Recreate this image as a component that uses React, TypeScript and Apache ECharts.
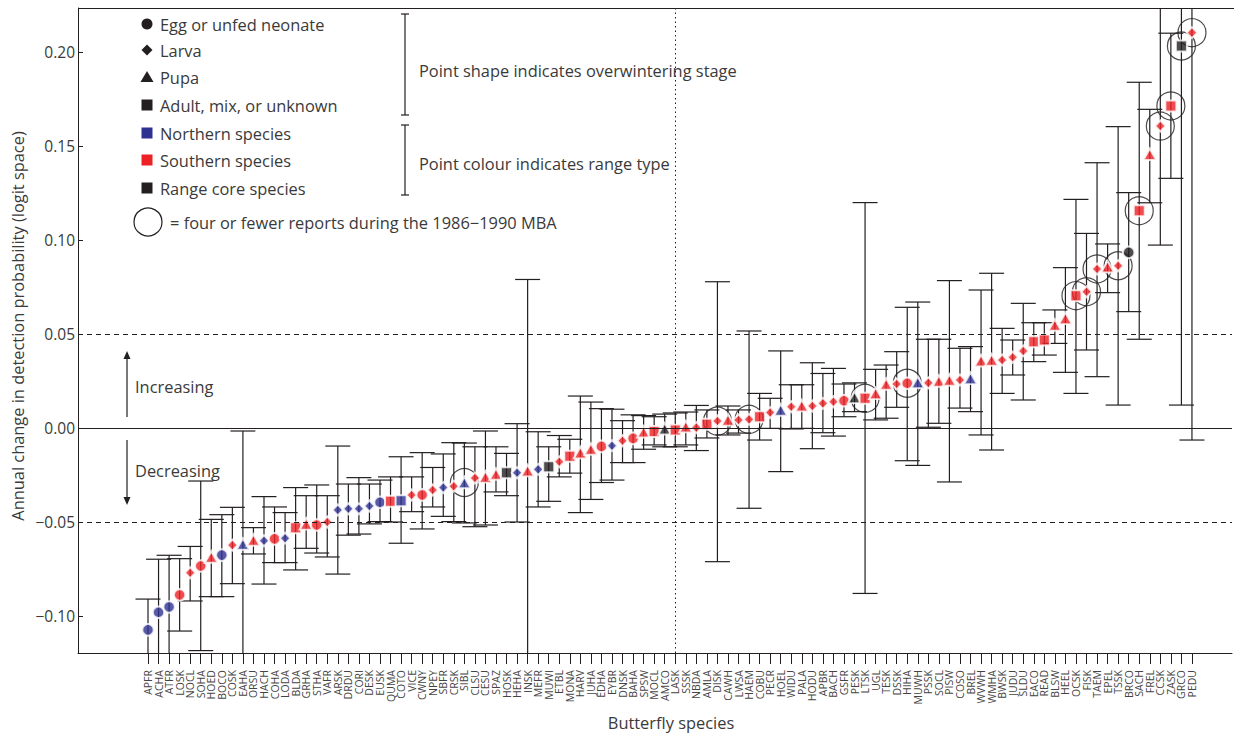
import React, { useEffect, useRef } from "react";
import * as echarts from "echarts";

const species = [
  "APFR","ACHA","ATFR","LOSK","NOCL","SOHA","HOED","BOCO","COSK","EAHA",
  "ORSU","HACH","COHA","LODA","BLDA","GRHA","STHA","VAFR","ARSK","DRDU",
  "CORI","DESK","EUSK","QUMA","COTO","VICE","CWNY","NPEY","SBFR","CRSK",
  "SIBL","CLSU","CESU","SPAZ","HOSK","HEHA","INSK","MEFR","MUWI","ETBL",
  "MONA","HARV","JUHA","EDHA","EYBR","DNSK","BAHA","SPSW","MOCL","AMCO",
  "LASK","SSSK","NBDA","AMLA","DISK","CAWH","LWSA","HAEM","COBU","PECR",
  "HOEL","WIDU","PALA","HODU","APBR","BACH","GSFR","PESK","LTSK","UGL",
  "TESK","DSSK","HIHA","MUWH","PSSK","SOCL","PISW","COSO","BREL","WVWH",
  "WMHA","BWSK","JUDU","SLDU","EACO","READ","BLSW","HEEL","OCSK","FISK",
  "TAEM","EPEL","TSSK","BRCO","SACH","FREL","CCSK","ZASK","GRCO","PEDU",
];

const change = [
  -0.1074,-0.098,-0.0952,-0.0888,-0.077,-0.0734,-0.0686,-0.0676,-0.0623,-0.0617,
  -0.0596,-0.060,-0.059,-0.0586,-0.053,-0.051,-0.0516,-0.050,-0.0436,-0.043,
  -0.043,-0.0415,-0.0395,-0.039,-0.0387,-0.0356,-0.0356,-0.033,-0.0317,-0.031,
  -0.029,-0.0266,-0.026,-0.0245,-0.0238,-0.0238,-0.0227,-0.022,-0.0206,-0.018,
  -0.015,-0.0131,-0.0112,-0.0098,-0.0094,-0.0068,-0.0055,-0.002,-0.0018,-0.0004,
  -0.001,0.0007,0.0002,0.002,0.0037,0.0043,0.0043,0.0046,0.006,0.0082,
  0.0096,0.0113,0.0119,0.0117,0.0131,0.014,0.0145,0.0163,0.0158,0.0184,
  0.0234,0.0234,0.0238,0.0243,0.024,0.025,0.0255,0.0255,0.0264,0.0358,
  0.0362,0.0362,0.0376,0.041,0.0459,0.0468,0.0548,0.0583,0.0704,0.0725,
  0.0846,0.0858,0.0863,0.0934,0.1156,0.1456,0.1606,0.1713,0.2032,0.2103,
];

const lower = [
  -0.14,-0.14,-0.14,-0.108,-0.092,-0.1184,-0.0897,-0.0897,-0.0828,-0.14,
  -0.067,-0.083,-0.0716,-0.0716,-0.0755,-0.064,-0.0665,-0.0686,-0.0777,-0.057,
  -0.0564,-0.051,-0.0498,-0.050,-0.0613,-0.0445,-0.0537,-0.042,-0.047,-0.0498,
  -0.0505,-0.0525,-0.0516,-0.034,-0.036,-0.050,-0.14,-0.042,-0.039,-0.026,
  -0.024,-0.045,-0.038,-0.029,-0.0277,-0.0184,-0.0184,-0.0113,-0.009,-0.010,
  -0.010,-0.009,-0.012,-0.0053,-0.0711,-0.0037,-0.0027,-0.0427,-0.0064,-0.0002,
  -0.0232,-0.0005,-0.0002,-0.011,-0.0025,-0.0043,0.006,0.0087,-0.088,0.0043,
  0.0052,0.011,-0.0174,-0.0199,0.0004,0.0025,-0.0287,0.0106,0.0087,-0.0037,
  -0.0117,0.0184,0.0282,0.0149,0.0353,0.0388,0.045,0.0296,0.0184,0.0415,
  0.0273,0.072,0.0122,0.0619,0.0472,0.1198,0.0973,0.1328,0.0122,-0.0064,
];

const upper = [
  -0.091,-0.0698,-0.0677,-0.0695,-0.063,-0.0282,-0.0486,-0.0461,-0.0422,-0.0016,
  -0.053,-0.0365,-0.042,-0.045,-0.0317,-0.036,-0.0303,-0.036,-0.0096,-0.0298,
  -0.0264,-0.0298,-0.0277,-0.026,-0.0153,-0.026,-0.0131,-0.021,-0.0138,-0.0078,
  -0.008,-0.010,-0.0016,-0.010,-0.0135,0.0023,0.079,-0.002,-0.010,-0.004,
  -0.006,0.017,0.0138,0.0103,0.010,0.0039,0.007,0.0066,0.006,0.0074,
  0.008,0.0085,0.012,0.0096,0.0778,0.0117,0.0096,0.0516,0.0184,0.0158,
  0.041,0.023,0.023,0.0347,0.029,0.0317,0.0234,0.024,0.1199,0.0312,
  0.0335,0.0406,0.0642,0.067,0.0472,0.0472,0.0784,0.0424,0.0433,0.0734,
  0.0823,0.053,0.0468,0.0663,0.056,0.056,0.0628,0.0853,0.1216,0.1035,
  0.1411,0.0979,0.1603,0.1252,0.1839,0.1695,0.26,0.21,0.26,0.26,
];

// overwintering stage: E egg/unfed neonate, L larva, P pupa, A adult/mix/unknown
const stage = [
  "E","E","E","E","L","E","P","E","L","P",
  "P","L","E","L","A","P","E","L","L","L",
  "L","L","E","A","A","L","E","L","L","L",
  "P","L","P","P","A","L","P","L","A","L",
  "A","P","P","E","L","L","E","P","A","P",
  "A","P","L","A","L","P","L","L","A","L",
  "P","L","P","L","L","L","E","P","A","P",
  "P","L","E","P","L","P","P","L","P","P",
  "P","L","L","L","A","A","P","P","A","L",
  "L","P","L","E","A","P","L","A","A","L",
];

// range type: N northern, S southern, C range core
const rangeType = [
  "N","N","N","S","S","S","S","N","S","N",
  "S","N","S","N","S","S","S","S","N","N",
  "N","N","N","S","N","S","S","S","N","S",
  "N","S","S","S","C","N","S","N","C","S",
  "S","S","S","S","N","S","S","S","S","C",
  "S","S","S","S","S","S","S","S","S","S",
  "N","S","S","S","S","S","S","C","S","S",
  "S","S","S","N","S","S","S","S","N","S",
  "S","S","S","S","S","S","S","S","S","S",
  "S","S","S","C","S","S","S","S","C","S",
];

const fewReports = ["SIBL","DISK","HAEM","LTSK","HIHA","OCSK","FISK","TAEM","TSSK","SACH","CCSK","ZASK","GRCO","PEDU"];

const yTicks = [-0.1, -0.05, 0, 0.05, 0.1, 0.15, 0.2];

const COLORS: Record<string, string> = { N: "#2e3192", S: "#ed2024", C: "#231f20" };
const SYMBOLS: Record<string, string> = { E: "circle", L: "diamond", P: "triangle", A: "rect" };
const SIZES: Record<string, number[]> = { E: [11.5, 11.5], L: [10.5, 11], P: [13, 11.5], A: [11, 11] };

const FONT = "'Open Sans', 'Noto Sans', sans-serif";
const INK = "#231f20";
const TXT = "#3a3a3a";
const FS = 16.4;

export default function App() {
  const ref = useRef<HTMLDivElement>(null);
  useEffect(() => {
    if (!ref.current) return;
    const chart = echarts.init(ref.current, null, { renderer: "svg" });

    const yMin = -(653 - 428) / 1880;
    const yMax = (428 - 8) / 1880;
    const xMin = (78 - 148) / 10.545;
    const xMax = (1232 - 148) / 10.545;

    const errData = species.map((_, i) => [i, lower[i], upper[i]]);
    const pointData = species.map((_, i) => ({
      value: [i, change[i]],
      symbol: SYMBOLS[stage[i]],
      symbolSize: SIZES[stage[i]],
      itemStyle: { color: COLORS[rangeType[i]] },
    }));
    const ringData = species
      .map((s, i) => (fewReports.includes(s) ? [i, change[i]] : null))
      .filter((d) => d !== null);

    const txt = (text: string, x: number, y: number, extra: any = {}) => ({
      type: "text",
      x,
      y,
      silent: true,
      style: {
        text,
        fill: TXT,
        fontSize: FS,
        fontFamily: FONT,
        textAlign: "left",
        textVerticalAlign: "middle",
        ...extra,
      },
    });
    const ln = (x1: number, y1: number, x2: number, y2: number, w = 1.2) => ({
      type: "line",
      silent: true,
      shape: { x1, y1, x2, y2 },
      style: { stroke: INK, lineWidth: w },
    });

    const legendX = 147;
    const yTitle: any = txt("Annual change in detection probability (logit space)", 17, 326, { textAlign: "center" });
    yTitle.rotation = Math.PI / 2;

    const graphic: any[] = [
      ln(78, 8.5, 1234, 8.5, 1),
      { type: "circle", shape: { cx: legendX, cy: 24, r: 5.5 }, style: { fill: INK } },
      { type: "polygon", shape: { points: [[legendX, 44.5], [legendX + 5.5, 50], [legendX, 55.5], [legendX - 5.5, 50]] }, style: { fill: INK } },
      { type: "polygon", shape: { points: [[legendX, 71], [legendX + 6.5, 82], [legendX - 6.5, 82]] }, style: { fill: INK } },
      { type: "rect", shape: { x: legendX - 5.5, y: 99.5, width: 11, height: 11 }, style: { fill: INK } },
      { type: "rect", shape: { x: legendX - 5.5, y: 127.5, width: 11, height: 11 }, style: { fill: COLORS.N } },
      { type: "rect", shape: { x: legendX - 5.5, y: 154.5, width: 11, height: 11 }, style: { fill: COLORS.S } },
      { type: "rect", shape: { x: legendX - 5.5, y: 182.5, width: 11, height: 11 }, style: { fill: COLORS.C } },
      { type: "circle", shape: { cx: 148, cy: 222, r: 14 }, style: { fill: "none", stroke: INK, lineWidth: 1.2 } },
      txt("Egg or unfed neonate", 160, 24),
      txt("Larva", 160, 50),
      txt("Pupa", 160, 77),
      txt("Adult, mix, or unknown", 160, 105),
      txt("Northern species", 160, 133),
      txt("Southern species", 160, 160),
      txt("Range core species", 160, 188),
      txt("= four or fewer reports during the 1986\u22121990 MBA", 170, 222),
      ln(405, 14, 405, 115),
      ln(401, 14, 409, 14),
      ln(401, 115, 409, 115),
      txt("Point shape indicates overwintering stage", 419, 70),
      ln(405, 125, 405, 195),
      ln(401, 125, 409, 125),
      ln(401, 195, 409, 195),
      txt("Point colour indicates range type", 419, 163),
      ln(127, 357, 127, 417),
      { type: "polygon", shape: { points: [[127, 351], [130.5, 359], [123.5, 359]] }, style: { fill: INK } },
      txt("Increasing", 135, 386),
      ln(127, 440, 127, 499),
      { type: "polygon", shape: { points: [[127, 505], [130.5, 497], [123.5, 497]] }, style: { fill: INK } },
      txt("Decreasing", 135, 470),
      yTitle,
      txt("Butterfly species", 671, 722, { textAlign: "center" }),
    ];

    const option: any = {
      animation: false,
      backgroundColor: "#ffffff",
      grid: [
        { left: 78, right: 2, top: 8, bottom: 80 },
        { left: 148 - 10.545 / 2, width: 10.545 * 100, top: 8, bottom: 80 },
        { left: 78, width: 1, top: 52, bottom: 733 - 616 },
      ],
      xAxis: [
        {
          gridIndex: 0,
          type: "value",
          min: xMin,
          max: xMax,
          axisLine: { show: true, onZero: false, lineStyle: { color: INK, width: 1 } },
          axisTick: { show: false },
          axisLabel: { show: false },
          splitLine: { show: false },
        },
        {
          gridIndex: 1,
          type: "category",
          data: species,
          boundaryGap: true,
          axisLine: { show: false },
          axisTick: { show: true, alignWithLabel: true, length: 11, lineStyle: { color: INK, width: 1 } },
          axisLabel: { interval: 0, rotate: 90, fontSize: 10.5, color: "#444", fontFamily: FONT, margin: 17 },
          splitLine: { show: false },
        },
        { gridIndex: 2, type: "value", show: false },
      ],
      yAxis: [
        {
          gridIndex: 0,
          type: "value",
          min: yMin,
          max: yMax,
          axisLine: { show: true, onZero: false, lineStyle: { color: INK, width: 1 } },
          axisTick: { show: false },
          axisLabel: { show: false },
          splitLine: { show: false },
        },
        { gridIndex: 1, type: "value", show: false },
        {
          gridIndex: 2,
          type: "value",
          min: yTicks[0],
          max: yTicks[yTicks.length - 1],
          interval: 0.05,
          axisLine: { show: false },
          axisTick: { show: true, inside: true, length: 5, lineStyle: { color: INK, width: 1 } },
          axisLabel: {
            fontSize: 15.5,
            color: TXT,
            fontFamily: FONT,
            margin: 3,
            formatter: (v: number) => (v < 0 ? "\u2212" + Math.abs(v).toFixed(2) : v.toFixed(2)),
          },
          splitLine: { show: false },
        },
      ],
      series: [
        {
          type: "custom",
          xAxisIndex: 0,
          yAxisIndex: 0,
          clip: true,
          silent: true,
          data: errData,
          encode: { x: 0, y: [1, 2] },
          renderItem: (params: any, api: any) => {
            const x = api.value(0);
            const lo = api.coord([x, api.value(1)]);
            const hi = api.coord([x, api.value(2)]);
            const hw = 12.5;
            const st = { stroke: INK, lineWidth: 1.2 };
            return {
              type: "group",
              children: [
                { type: "line", shape: { x1: lo[0], y1: lo[1], x2: hi[0], y2: hi[1] }, style: st },
                { type: "line", shape: { x1: lo[0] - hw, y1: lo[1], x2: lo[0] + hw, y2: lo[1] }, style: st },
                { type: "line", shape: { x1: hi[0] - hw, y1: hi[1], x2: hi[0] + hw, y2: hi[1] }, style: st },
              ],
            };
          },
          markLine: {
            silent: true,
            symbol: "none",
            label: { show: false },
            animation: false,
            data: [
              { yAxis: 0, lineStyle: { color: INK, width: 1.2, type: "solid" } },
              { yAxis: 0.05, lineStyle: { color: INK, width: 1, type: [5, 4] } },
              { yAxis: -0.05, lineStyle: { color: INK, width: 1, type: [5, 4] } },
              { xAxis: 50, lineStyle: { color: INK, width: 1, type: [1.5, 3] } },
            ],
          },
          z: 2,
        },
        {
          type: "scatter",
          xAxisIndex: 0,
          yAxisIndex: 0,
          silent: true,
          data: ringData,
          symbol: "circle",
          symbolSize: 28,
          itemStyle: { color: "rgba(0,0,0,0)", borderColor: INK, borderWidth: 1.2 },
          z: 3,
        },
        {
          type: "scatter",
          xAxisIndex: 0,
          yAxisIndex: 0,
          silent: true,
          data: pointData,
          itemStyle: { borderColor: "#ffffff", borderWidth: 2 },
          z: 4,
        },
      ],
      graphic,
    };

    chart.setOption(option);
    return () => chart.dispose();
  }, []);

  return (
    <div
      ref={ref}
      style={{ position: "absolute", left: 0, top: 0, width: 1234, height: 733 }}
    />
  );
}
